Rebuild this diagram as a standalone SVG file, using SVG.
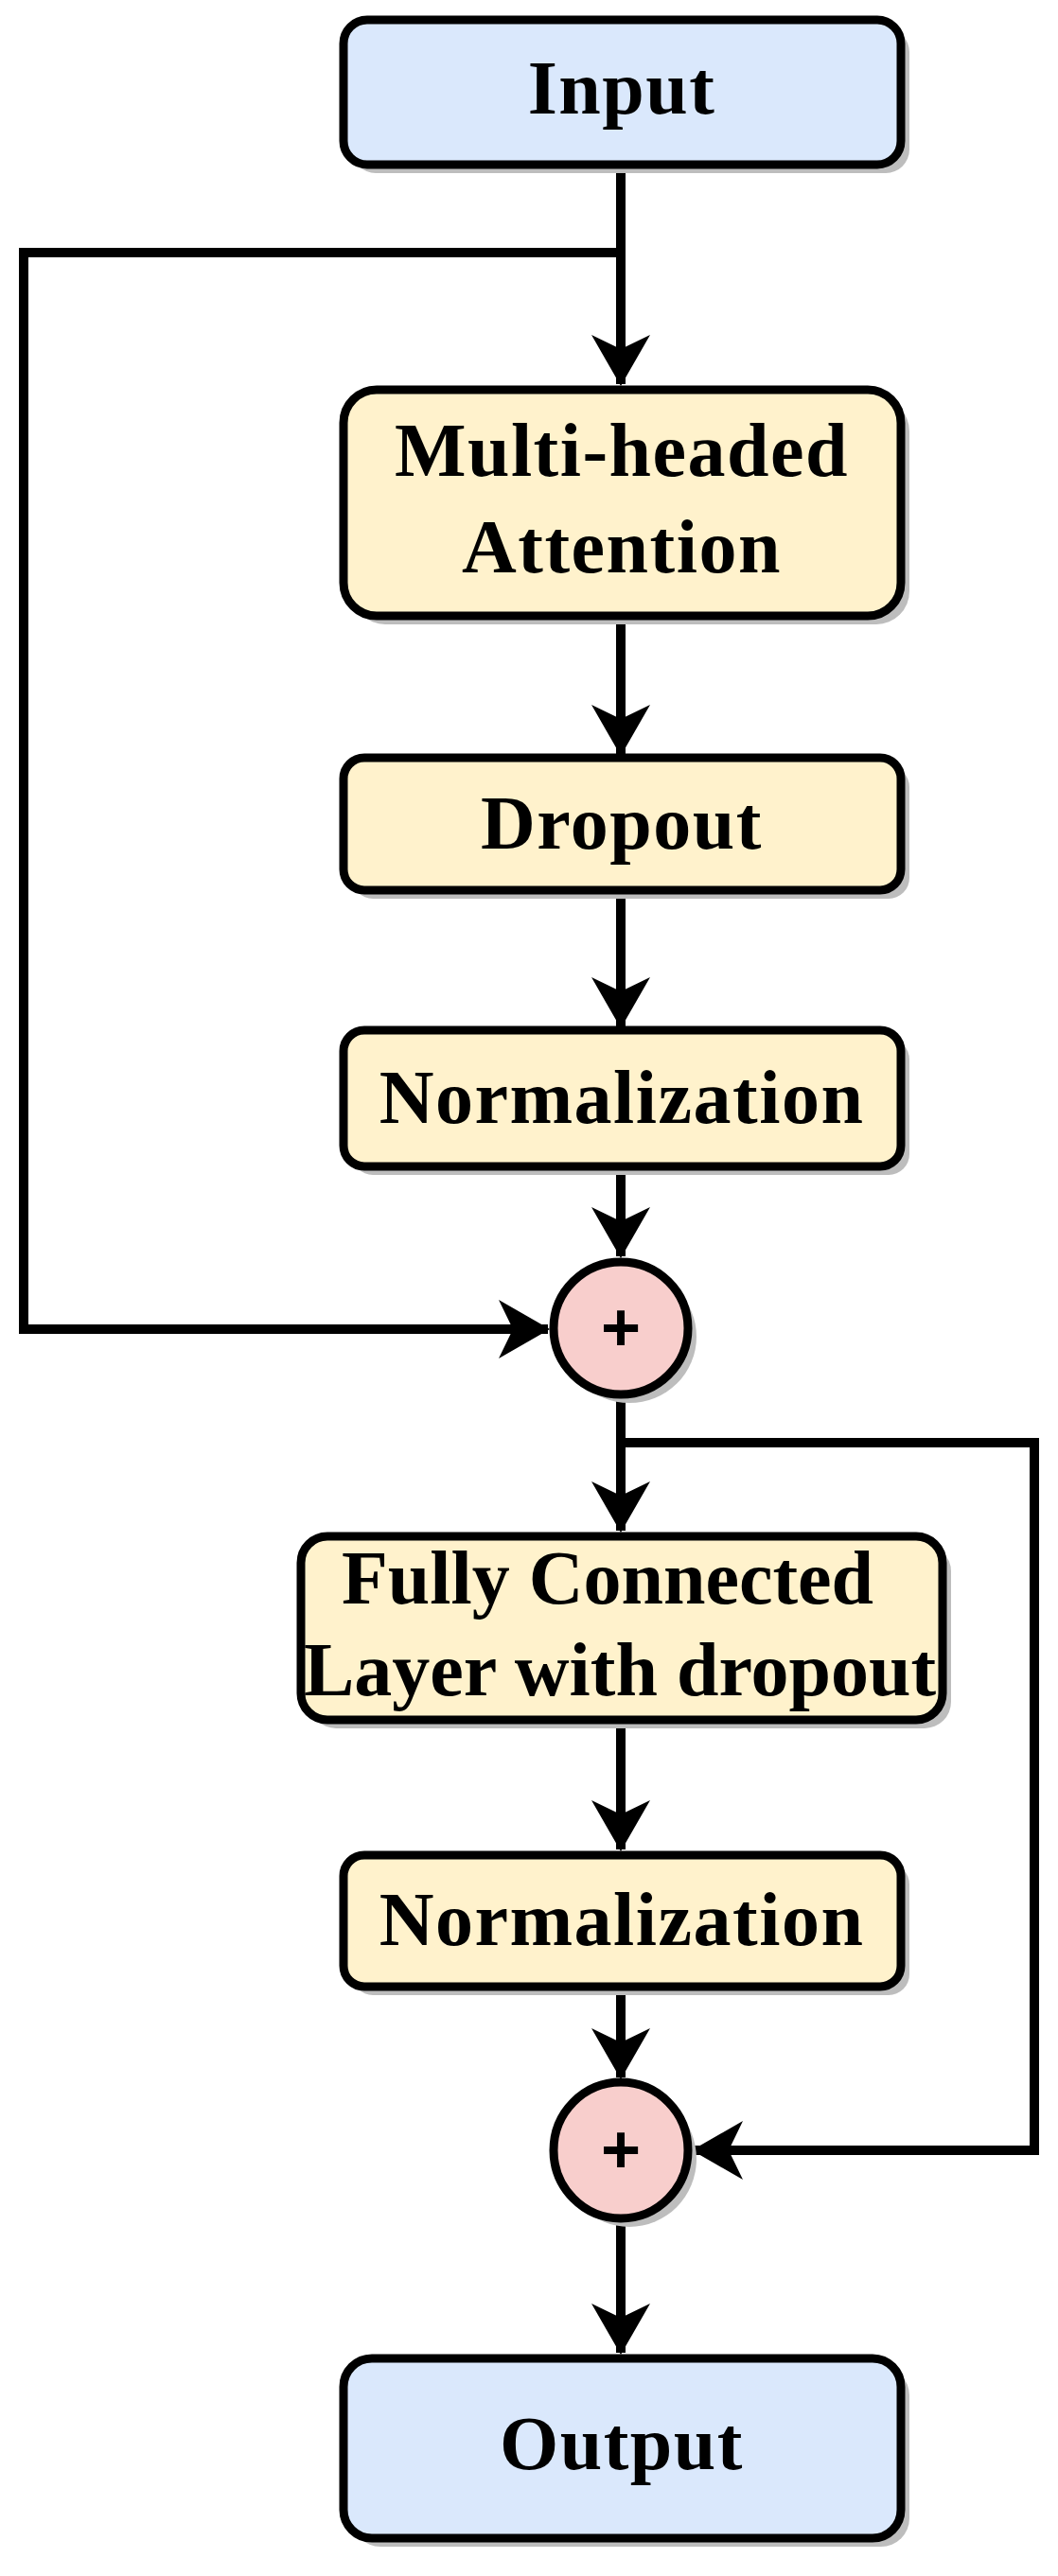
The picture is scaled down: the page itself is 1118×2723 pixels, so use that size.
<svg xmlns="http://www.w3.org/2000/svg" width="1118" height="2723" viewBox="0 0 1118 2723">
<style>
.box{stroke:#000;stroke-width:9}
.blue{fill:#dae8fc}.yel{fill:#fff2cc}.red{fill:#f8cecc}
.sh{fill:#bdbdbd}
.t{font-family:"Liberation Serif",serif;font-weight:bold;font-size:80px;letter-spacing:1.5px;text-anchor:middle;fill:#000}
.fc{letter-spacing:0px}
.p{font-family:"Liberation Sans",sans-serif;font-weight:bold;font-size:72px;text-anchor:middle}
.c{fill:none;stroke:#000;stroke-width:10}
</style>
<defs>
<marker id="a" markerUnits="userSpaceOnUse" viewBox="0 0 54 62" refX="52" refY="31" markerWidth="54" markerHeight="62" orient="auto">
<path d="M0,0 L54,31 L0,62 L15,31 Z" fill="#000"/>
</marker>
</defs>
<g id="connectors">
<path class="c" d="M656,174 V406" marker-end="url(#a)"/>
<path class="c" d="M656,267 H25 V1405 H579" marker-end="url(#a)"/>
<path class="c" d="M656,651 V797" marker-end="url(#a)"/>
<path class="c" d="M656,941 V1085" marker-end="url(#a)"/>
<path class="c" d="M656,1233 V1328" marker-end="url(#a)"/>
<path class="c" d="M656,1476 V1618" marker-end="url(#a)"/>
<path class="c" d="M656,1525 H1093 V2273 H733" marker-end="url(#a)"/>
<path class="c" d="M656,1818 V1955" marker-end="url(#a)"/>
<path class="c" d="M656,2100 V2196" marker-end="url(#a)"/>
<path class="c" d="M656,2345 V2487" marker-end="url(#a)"/>
</g>
<g id="input"><rect class="sh" x="372" y="30" width="589" height="153" rx="25"/><rect class="box blue" x="363" y="21" width="589" height="153" rx="25"/><text class="t" x="657" y="120">Input</text></g>
<g id="mha"><rect class="sh" x="372" y="421" width="589" height="239" rx="35"/><rect class="box yel" x="363" y="412" width="589" height="239" rx="35"/><text class="t" x="657" y="503">Multi-headed</text><text class="t" x="657" y="605">Attention</text></g>
<g id="dropout"><rect class="sh" x="372" y="810" width="589" height="140" rx="22"/><rect class="box yel" x="363" y="801" width="589" height="140" rx="22"/><text class="t" x="657" y="897">Dropout</text></g>
<g id="norm1"><rect class="sh" x="372" y="1098" width="589" height="144" rx="22"/><rect class="box yel" x="363" y="1089" width="589" height="144" rx="22"/><text class="t" x="657" y="1187">Normalization</text></g>
<g id="add1"><ellipse class="sh" cx="665" cy="1413" rx="71" ry="70"/><ellipse class="box red" cx="656" cy="1404" rx="71" ry="70"/><text class="p" x="656" y="1428">+</text></g>
<g id="fc"><rect class="sh" x="327" y="1633" width="678" height="194" rx="28"/><rect class="box yel" x="318" y="1624" width="678" height="194" rx="28"/><text class="t fc" x="642" y="1695">Fully Connected</text><text class="t fc" x="655" y="1792">Layer with dropout</text></g>
<g id="norm2"><rect class="sh" x="372" y="1970" width="589" height="139" rx="22"/><rect class="box yel" x="363" y="1961" width="589" height="139" rx="22"/><text class="t" x="657" y="2056">Normalization</text></g>
<g id="add2"><ellipse class="sh" cx="665" cy="2282" rx="71" ry="72"/><ellipse class="box red" cx="656" cy="2273" rx="71" ry="72"/><text class="p" x="656" y="2297">+</text></g>
<g id="output"><rect class="sh" x="372" y="2502" width="589" height="190" rx="30"/><rect class="box blue" x="363" y="2493" width="589" height="190" rx="30"/><text class="t" x="657" y="2610">Output</text></g>
</svg>
